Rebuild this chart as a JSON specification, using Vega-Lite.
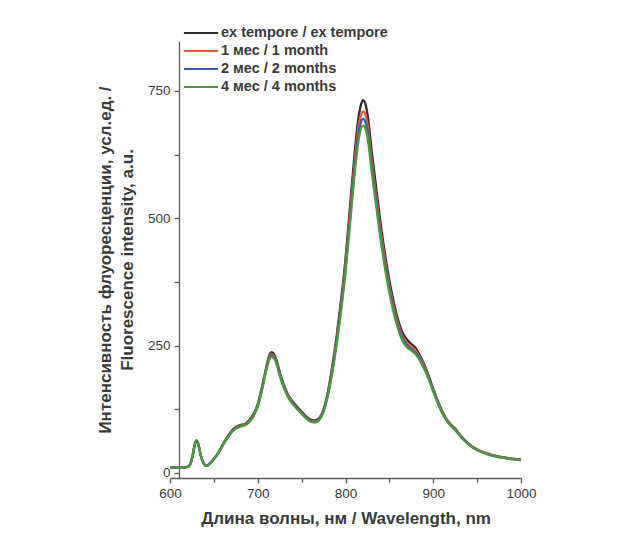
{
  "$schema": "https://vega.github.io/schema/vega-lite/v6.json",
  "autosize": {"type": "none"},
  "width": 351,
  "height": 437,
  "padding": {"left": 170, "top": 41, "right": 109, "bottom": 58},
  "background": "white",
  "config": {
    "view": {"stroke": null},
    "font": "Liberation Sans",
    "axis": {"domainColor": "#5a5a5a", "tickColor": "#5a5a5a", "domainWidth": 1.3, "tickWidth": 1.3, "labelColor": "#3a3a3a", "labelFontSize": 13.5, "titleColor": "#3a3a3a", "titleFontSize": 17, "titleFontWeight": "bold", "grid": false}
  },
  "data": {"values": [
    {"w":600,"a":10,"b":10,"c":10,"d":10},
    {"w":605,"a":11,"b":11,"c":11,"d":11},
    {"w":610,"a":11,"b":11,"c":11,"d":11},
    {"w":615,"a":11,"b":11,"c":11,"d":11},
    {"w":620,"a":12,"b":12,"c":12,"d":12},
    {"w":623,"a":17,"b":17,"c":17,"d":17},
    {"w":626,"a":36,"b":36,"c":35,"d":35},
    {"w":628,"a":55,"b":54,"c":54,"d":53},
    {"w":630,"a":64,"b":63,"c":63,"d":62},
    {"w":632,"a":59,"b":58,"c":58,"d":57},
    {"w":634,"a":43,"b":43,"c":42,"d":42},
    {"w":637,"a":24,"b":24,"c":24,"d":23},
    {"w":640,"a":15,"b":15,"c":15,"d":15},
    {"w":642,"a":14,"b":14,"c":14,"d":14},
    {"w":645,"a":18,"b":18,"c":18,"d":17},
    {"w":650,"a":28,"b":28,"c":27,"d":27},
    {"w":655,"a":40,"b":39,"c":39,"d":39},
    {"w":660,"a":55,"b":54,"c":54,"d":53},
    {"w":665,"a":70,"b":69,"c":68,"d":68},
    {"w":670,"a":82,"b":81,"c":80,"d":79},
    {"w":675,"a":90,"b":89,"c":88,"d":87},
    {"w":680,"a":94,"b":93,"c":92,"d":91},
    {"w":685,"a":96,"b":95,"c":94,"d":93},
    {"w":690,"a":103,"b":101,"c":100,"d":99},
    {"w":695,"a":115,"b":113,"c":112,"d":111},
    {"w":700,"a":135,"b":133,"c":132,"d":130},
    {"w":705,"a":170,"b":167,"c":166,"d":164},
    {"w":710,"a":210,"b":207,"c":205,"d":203},
    {"w":713,"a":230,"b":227,"c":224,"d":222},
    {"w":716,"a":237,"b":233,"c":231,"d":228},
    {"w":719,"a":232,"b":229,"c":226,"d":224},
    {"w":722,"a":218,"b":215,"c":213,"d":210},
    {"w":725,"a":198,"b":195,"c":193,"d":191},
    {"w":730,"a":172,"b":169,"c":168,"d":166},
    {"w":735,"a":152,"b":150,"c":148,"d":147},
    {"w":740,"a":140,"b":138,"c":137,"d":135},
    {"w":745,"a":130,"b":128,"c":127,"d":125},
    {"w":750,"a":120,"b":118,"c":117,"d":116},
    {"w":755,"a":111,"b":109,"c":108,"d":107},
    {"w":760,"a":105,"b":103,"c":102,"d":101},
    {"w":765,"a":103,"b":101,"c":100,"d":99},
    {"w":770,"a":108,"b":106,"c":105,"d":104},
    {"w":775,"a":125,"b":123,"c":122,"d":120},
    {"w":780,"a":160,"b":157,"c":155,"d":152},
    {"w":785,"a":210,"b":205,"c":201,"d":197},
    {"w":790,"a":270,"b":263,"c":258,"d":253},
    {"w":795,"a":340,"b":331,"c":325,"d":318},
    {"w":800,"a":420,"b":409,"c":401,"d":393},
    {"w":805,"a":520,"b":506,"c":496,"d":486},
    {"w":810,"a":620,"b":603,"c":592,"d":580},
    {"w":815,"a":700,"b":681,"c":667,"d":655},
    {"w":818,"a":725,"b":705,"c":691,"d":678},
    {"w":820,"a":732,"b":710,"c":695,"d":682},
    {"w":822,"a":728,"b":707,"c":692,"d":679},
    {"w":825,"a":705,"b":685,"c":672,"d":660},
    {"w":830,"a":630,"b":612,"c":601,"d":589},
    {"w":835,"a":560,"b":544,"c":534,"d":524},
    {"w":840,"a":490,"b":476,"c":467,"d":458},
    {"w":845,"a":430,"b":418,"c":410,"d":402},
    {"w":850,"a":378,"b":367,"c":361,"d":353},
    {"w":855,"a":335,"b":326,"c":320,"d":314},
    {"w":860,"a":300,"b":292,"c":287,"d":282},
    {"w":865,"a":275,"b":268,"c":264,"d":259},
    {"w":870,"a":262,"b":256,"c":251,"d":247},
    {"w":875,"a":253,"b":248,"c":243,"d":240},
    {"w":880,"a":245,"b":240,"c":236,"d":233},
    {"w":885,"a":230,"b":226,"c":223,"d":220},
    {"w":890,"a":212,"b":209,"c":206,"d":203},
    {"w":895,"a":190,"b":187,"c":185,"d":183},
    {"w":900,"a":165,"b":163,"c":161,"d":159},
    {"w":905,"a":142,"b":140,"c":139,"d":137},
    {"w":910,"a":122,"b":120,"c":119,"d":118},
    {"w":915,"a":106,"b":105,"c":104,"d":103},
    {"w":920,"a":95,"b":94,"c":93,"d":92},
    {"w":925,"a":87,"b":86,"c":85,"d":84},
    {"w":930,"a":76,"b":75,"c":74,"d":74},
    {"w":935,"a":66,"b":65,"c":65,"d":64},
    {"w":940,"a":58,"b":57,"c":57,"d":56},
    {"w":945,"a":51,"b":51,"c":50,"d":50},
    {"w":950,"a":46,"b":46,"c":45,"d":45},
    {"w":955,"a":42,"b":42,"c":41,"d":41},
    {"w":960,"a":39,"b":39,"c":38,"d":38},
    {"w":965,"a":36,"b":36,"c":35,"d":35},
    {"w":970,"a":34,"b":34,"c":33,"d":33},
    {"w":975,"a":32,"b":32,"c":31,"d":31},
    {"w":980,"a":31,"b":30,"c":30,"d":30},
    {"w":985,"a":29,"b":29,"c":28,"d":28},
    {"w":990,"a":28,"b":28,"c":27,"d":27},
    {"w":995,"a":27,"b":27,"c":26,"d":26},
    {"w":1000,"a":26,"b":26,"c":25,"d":25}
  ]},
  "transform": [
    {"fold": ["a", "b", "c", "d"], "as": ["key", "value"]},
    {"lookup": "key", "from": {"data": {"values": [
      {"key": "a", "series": "ex tempore / ex tempore", "ord": 0},
      {"key": "b", "series": "1 мес / 1 month", "ord": 1},
      {"key": "c", "series": "2 мес / 2 months", "ord": 2},
      {"key": "d", "series": "4 мес / 4 months", "ord": 3}
    ]}, "key": "key", "fields": ["series", "ord"]}}
  ],
  "mark": {"type": "line", "strokeWidth": 2.3, "interpolate": "monotone"},
  "encoding": {
    "x": {"field": "w", "type": "quantitative",
      "scale": {"domain": [600, 1000], "nice": false, "zero": false},
      "axis": {"title": "Длина волны, нм / Wavelength, nm", "values": [600,650,700,750,800,850,900,950,1000],
        "format": "d",
        "labelExpr": "datum.value % 100 === 0 ? datum.label : ''",
        "tickSize": {"condition": {"test": "datum.value % 100 === 0", "value": 5}, "value": 4},
        "labelPadding": 3, "titlePadding": 11, "labelFlush": false}},
    "y": {"field": "value", "type": "quantitative",
      "scale": {"domain": [-10, 848], "nice": false, "zero": false},
      "axis": {"title": ["Интенсивность флуоресценции, усл.ед. /", "Fluorescence intensity, a.u."],
        "values": [0,125,250,375,500,625,750],
        "labelExpr": "datum.value % 250 === 0 ? datum.label : ''",
        "tickSize": 5, "offset": -9, "labelPadding": 4, "titlePadding": 11, "titleLineHeight": 22}},
    "color": {"field": "series", "type": "nominal",
      "scale": {"domain": ["ex tempore / ex tempore", "1 мес / 1 month", "2 мес / 2 months", "4 мес / 4 months"],
                "range": ["#2e2e2e", "#ee5a3c", "#3b58a3", "#4d9a3e"]},
      "legend": {"title": null, "orient": "none", "legendX": 21, "legendY": -18,
        "symbolType": "M-1.9,0H1.9", "symbolSize": 324, "symbolStrokeWidth": 2,
        "labelFontSize": 14.5, "labelFontWeight": "bold", "labelColor": "#3a3a3a", "labelOffset": 10, "rowPadding": 1, "labelLimit": 400}},
    "order": {"field": "ord", "type": "quantitative"}
  }
}
